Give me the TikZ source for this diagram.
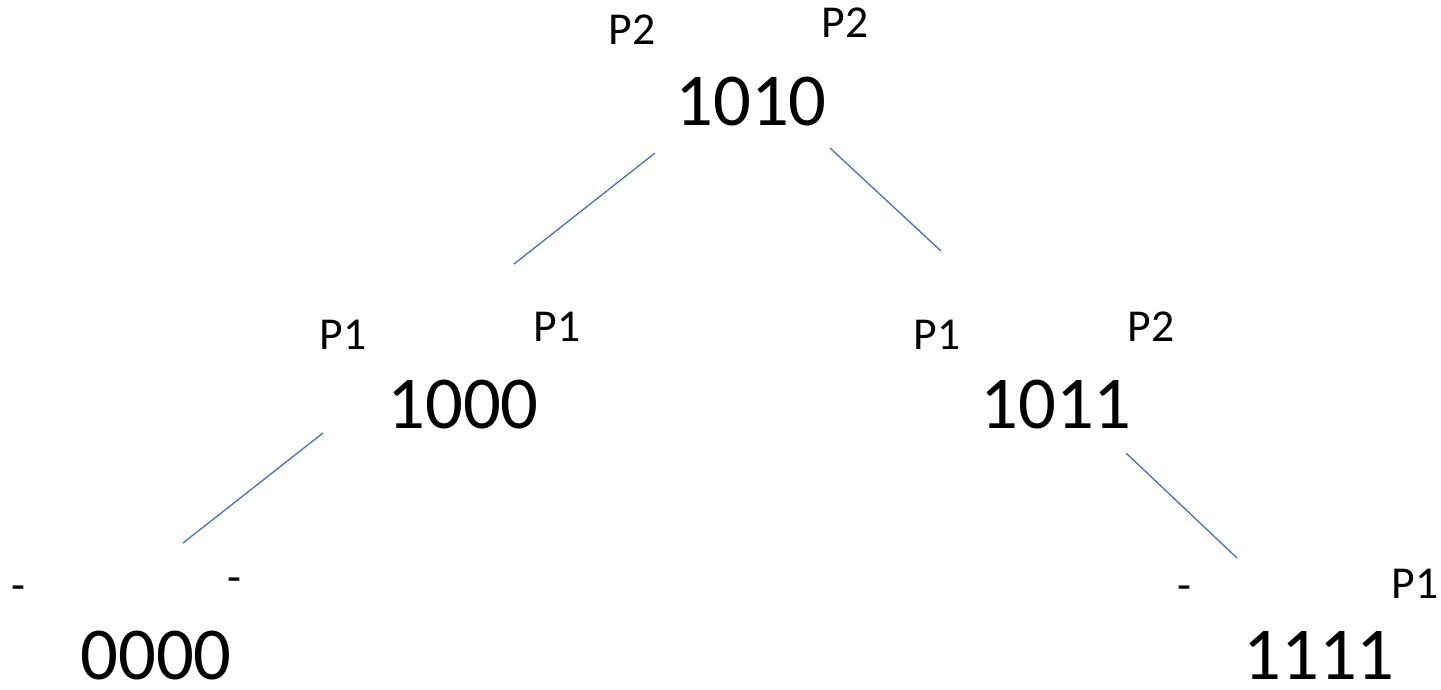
\documentclass[tikz,border=0pt]{standalone}
\usepackage{fontspec}
\setmainfont{Carlito}
\definecolor{edgeblue}{HTML}{4472C4}
\begin{document}
\begin{tikzpicture}[x=0.02cm,y=-0.02cm,
  big/.style={inner sep=0pt,anchor=base,font=\fontsize{42.5}{50}\selectfont},
  small/.style={inner sep=0pt,anchor=base,font=\fontsize{26}{31}\selectfont},
  dashlbl/.style={inner sep=0pt,anchor=center,font=\fontsize{26}{31}\selectfont},
  edge/.style={draw=edgeblue,line width=0.75pt}]
\useasboundingbox (0,0) rectangle (1441,690);
% level 0
\node[big] (n1010) at (751,125) {1010};
\node[small] (a1) at (632,44) {P2};
\node[small] (a2) at (845,37) {P2};
% level 1
\node[big] (n1000) at (463,428) {1000};
\node[small] (b1) at (343,349) {P1};
\node[small] (b2) at (557,341) {P1};
\node[big] (n1011) at (1056,428) {1011};
\node[small] (c1) at (937,349) {P1};
\node[small] (c2) at (1151,341) {P2};
% level 2
\node[big] (n0000) at (156,679) {0000};
\node[dashlbl] (d1) at (18,593) {-};
\node[dashlbl] (d2) at (234,585) {-};
\node[big] (n1111) at (1319,679) {1111};
\node[dashlbl] (e1) at (1184,593) {-};
\node[small] (e2) at (1415,598) {P1};
% connector end points
\coordinate (l1a) at (655,153);
\coordinate (l1b) at (514,264);
\coordinate (l2a) at (830,148);
\coordinate (l2b) at (941,251);
\coordinate (l3a) at (323,433);
\coordinate (l3b) at (183,543);
\coordinate (l4a) at (1126,453);
\coordinate (l4b) at (1237,558);
\draw[edge] (l1a) -- (l1b);
\draw[edge] (l2a) -- (l2b);
\draw[edge] (l3a) -- (l3b);
\draw[edge] (l4a) -- (l4b);
\end{tikzpicture}
\end{document}
